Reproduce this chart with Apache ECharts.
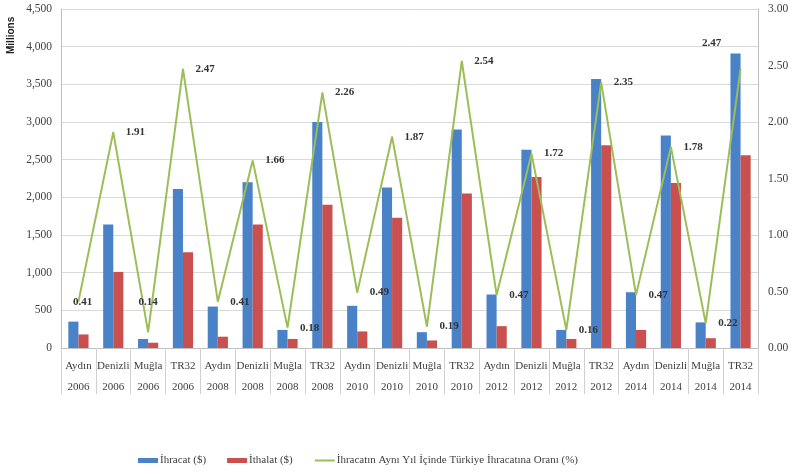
<!DOCTYPE html>
<html>
<head>
<meta charset="utf-8">
<script src="https://cdn.jsdelivr.net/npm/echarts@6/dist/echarts.min.js"></script>
<style>
  html, body {margin: 0; padding: 0; background: #fff;}
  #chart {width: 793px; height: 474px;}
</style>
</head>
<body>
<div id="chart"></div>
<script>
const regions = ['Aydın', 'Denizli', 'Muğla', 'TR32', 'Aydın', 'Denizli', 'Muğla', 'TR32', 'Aydın', 'Denizli',
  'Muğla', 'TR32', 'Aydın', 'Denizli', 'Muğla', 'TR32', 'Aydın', 'Denizli', 'Muğla', 'TR32'];
const years = ['2006', '2006', '2006', '2006', '2008', '2008', '2008', '2008', '2010', '2010',
  '2010', '2010', '2012', '2012', '2012', '2012', '2014', '2014', '2014', '2014'];
// millions $
const ihracat = [350, 1640, 120, 2110, 550, 2200, 240, 3000, 560, 2130,
  210, 2900, 710, 2630, 240, 3570, 740, 2820, 340, 3910];
const ithalat = [180, 1010, 70, 1270, 150, 1640, 120, 1900, 220, 1730,
  100, 2050, 290, 2270, 120, 2690, 240, 2190, 130, 2560];
// share of Turkey's exports (%)
const oran = [0.41, 1.91, 0.14, 2.47, 0.41, 1.66, 0.18, 2.26, 0.49, 1.87,
  0.19, 2.54, 0.47, 1.72, 0.16, 2.35, 0.47, 1.78, 0.22, 2.47];
const leftTicks = [0, 4500, 500];
const rightTicks = [0, 3, 0.5];

const categories = regions.map((r, i) => r + '\n' + years[i]);
const font = 'Liberation Serif';
const txt = '#404040';
const lineName = 'İhracatın Aynı Yıl İçinde Türkiye İhracatına Oranı (%)';

// a few labels sit somewhere other than right of the point
const labelFix = {
  0: {position: 'right', distance: -6},
  2: {position: 'top', distance: 24},
  19: {position: 'top', distance: 20, offset: [-29, 0]}
};
const lineData = oran.map((v, i) => labelFix[i] ? {value: v, label: labelFix[i]} : v);

const chart = echarts.init(document.getElementById('chart'));
chart.setOption({
  animation: false,
  textStyle: {fontFamily: font},
  grid: {left: 61, right: 35, top: 9, bottom: 126},
  graphic: [{
    type: 'text',
    x: 6, y: 54, rotation: Math.PI / 2,
    style: {text: 'Millions', fontFamily: 'Liberation Sans', fontSize: 10, fontWeight: 'bold', fill: '#222'}
  }],
  legend: {
    bottom: 3,
    left: 133,
    itemGap: 21,
    itemWidth: 20,
    itemHeight: 5,
    textStyle: {fontFamily: font, fontSize: 11, color: txt, padding: [0, 0, 0, -3]},
    data: [
      {name: 'İhracat ($)', icon: 'rect'},
      {name: 'İthalat ($)', icon: 'rect'},
      {name: lineName, itemStyle: {opacity: 0}}
    ]
  },
  xAxis: {
    type: 'category',
    data: categories,
    boundaryGap: true,
    axisLine: {lineStyle: {color: '#bfbfbf'}},
    axisTick: {show: true, interval: 0, length: 46, lineStyle: {color: '#d0d0d0'}},
    axisLabel: {interval: 0, fontSize: 11, color: txt, lineHeight: 21, margin: 8}
  },
  yAxis: [{
    type: 'value',
    min: leftTicks[0], max: leftTicks[1], interval: leftTicks[2],
    axisLine: {show: true, lineStyle: {color: '#bfbfbf'}},
    axisTick: {show: false},
    splitLine: {lineStyle: {color: '#d9d9d9'}},
    axisLabel: {fontSize: 11.5, color: txt, margin: 9, formatter: v => v.toLocaleString('en-US')}
  }, {
    type: 'value',
    min: rightTicks[0], max: rightTicks[1], interval: rightTicks[2],
    axisLine: {show: true, lineStyle: {color: '#bfbfbf'}},
    axisTick: {show: false},
    splitLine: {show: false},
    axisLabel: {fontSize: 11.5, color: txt, margin: 10, formatter: v => v.toFixed(2)}
  }],
  series: [{
    name: 'İhracat ($)',
    type: 'bar',
    data: ihracat,
    barGap: '0%',
    barCategoryGap: '42%',
    itemStyle: {color: '#4A82C8'}
  }, {
    name: 'İthalat ($)',
    type: 'bar',
    data: ithalat,
    itemStyle: {color: '#C9504E'}
  }, {
    name: lineName,
    type: 'line',
    yAxisIndex: 1,
    data: lineData,
    symbol: 'circle',
    symbolSize: 1,
    showSymbol: true,
    lineStyle: {color: '#9BBE59', width: 2},
    itemStyle: {color: '#9BBE59'},
    z: 5,
    label: {
      show: true,
      position: 'right',
      distance: 12,
      fontSize: 11,
      fontWeight: 'bold',
      color: '#333',
      formatter: p => p.value.toFixed(2)
    }
  }]
});
</script>
</body>
</html>
